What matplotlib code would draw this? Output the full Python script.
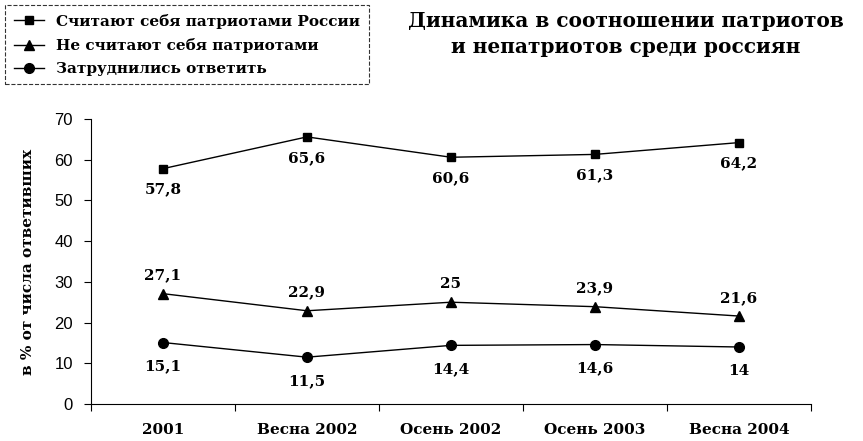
import matplotlib
matplotlib.use("Agg")
import matplotlib.pyplot as plt

categories = ["2001", "Весна 2002", "Осень 2002", "Осень 2003", "Весна 2004"]
patriots = [57.8, 65.6, 60.6, 61.3, 64.2]
not_patriots = [27.1, 22.9, 25, 23.9, 21.6]
hard_to_say = [15.1, 11.5, 14.4, 14.6, 14]
series_names = ["Считают себя патриотами России",
                "Не считают себя патриотами",
                "Затруднились ответить"]

serif = ["DejaVu Serif"]
plt.rcParams["font.family"] = serif

fig = plt.figure(figsize=(8.63, 4.41), dpi=100)
ax = fig.add_axes([0.1054, 0.0839, 0.8343, 0.6463])

x = list(range(len(categories)))
ax.plot(x, patriots, "-s", color="black", lw=1, ms=6, label=series_names[0])
ax.plot(x, not_patriots, "-^", color="black", lw=1, ms=7, label=series_names[1])
ax.plot(x, hard_to_say, "-o", color="black", lw=1, ms=7, label=series_names[2])

def fmt(v):
    s = f"{v:g}"
    return s.replace(".", ",")

for xi, v in zip(x, patriots):
    ax.annotate(fmt(v), (xi, v), xytext=(0, -10), textcoords="offset points",
                ha="center", va="top", fontsize=11, fontweight="bold")
for xi, v in zip(x, not_patriots):
    ax.annotate(fmt(v), (xi, v), xytext=(0, 8), textcoords="offset points",
                ha="center", va="bottom", fontsize=11, fontweight="bold")
for xi, v in zip(x, hard_to_say):
    ax.annotate(fmt(v), (xi, v), xytext=(0, -12), textcoords="offset points",
                ha="center", va="top", fontsize=11, fontweight="bold")

ax.set_xlim(-0.5, len(categories) - 0.5)
ax.set_ylim(0, 70)
ax.set_yticks(range(0, 71, 10))
ax.set_xticks([i + 0.5 for i in range(-1, len(categories))])
ax.set_xticklabels([])
ax.set_xticks(x, minor=True)
ax.set_xticklabels(categories, minor=True, fontsize=11, fontweight="bold")
ax.tick_params(axis="x", which="minor", length=0, pad=14)
ax.tick_params(axis="x", which="major", length=5, direction="out")
ax.tick_params(axis="y", length=5, direction="out", labelsize=12, pad=8)
for lab in ax.get_yticklabels():
    lab.set_fontfamily(["Liberation Sans", "DejaVu Sans"])
ax.spines["top"].set_visible(False)
ax.spines["right"].set_visible(False)
ax.set_ylabel("в % от числа ответивших", fontsize=11, fontweight="bold", labelpad=14)

leg = fig.legend(loc="upper left", bbox_to_anchor=(0.006, 0.988), frameon=True,
                 borderaxespad=0,
                 prop={"family": serif, "weight": "bold", "size": 11},
                 handlelength=2.0, borderpad=0.55, labelspacing=0.6, fancybox=False)
leg.get_frame().set_edgecolor("black")
leg.get_frame().set_linestyle("--")
leg.get_frame().set_linewidth(0.8)

fig.text(0.7254, 0.975, "Динамика в соотношении патриотов\nи непатриотов среди россиян",
         ha="center", va="top", fontsize=14.5, fontweight="bold", linespacing=1.4)

fig.savefig("out.png", dpi=100)
